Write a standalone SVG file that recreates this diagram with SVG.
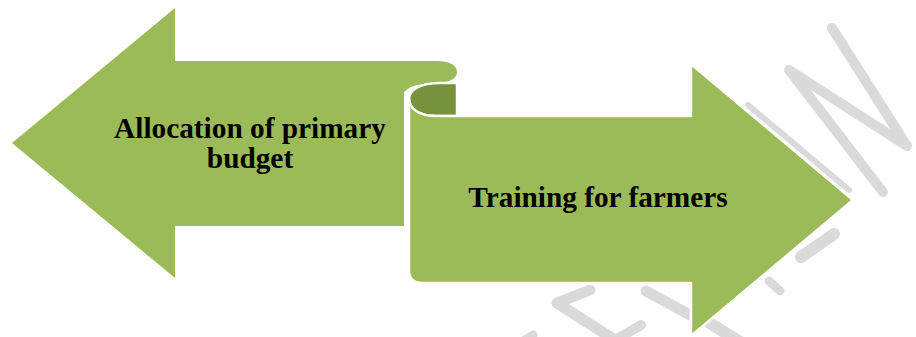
<svg xmlns="http://www.w3.org/2000/svg" width="916" height="337" viewBox="0 0 916 337">
  <style>
    .shape { fill: #9bbb59; }
    .edge { stroke: #ffffff; stroke-width: 2.5; stroke-linejoin: round; }
    .inner { fill: #76923c; }
    .label { font-family: "Liberation Serif", "Times New Roman", serif; font-weight: bold; font-size: 29.3px; fill: #000000; text-anchor: middle; }
    .wm { fill: none; stroke: #dadada; stroke-linecap: round; stroke-linejoin: round; }
  </style>
  <rect width="916" height="337" fill="#ffffff"/>
  <g id="watermark">
    <polyline class="wm" stroke-width="10" points="883,192 789,70 907,146 832,28"/>
    <line class="wm" stroke-width="6" x1="748" y1="105" x2="849" y2="190"/>
    <line class="wm" stroke-width="12" x1="801" y1="257" x2="834" y2="234"/>
    <line class="wm" stroke-width="9" x1="769" y1="281" x2="780" y2="291"/>
    <line class="wm" stroke-width="12" x1="708" y1="322" x2="745" y2="345"/>
    <line class="wm" stroke-width="11" x1="646" y1="291" x2="690" y2="315"/>
    <polyline class="wm" stroke-width="11" points="590,290 557,303 618,342"/>
    <line class="wm" stroke-width="10" x1="612" y1="342" x2="641" y2="325"/>
    <line class="wm" stroke-width="9" x1="520" y1="343" x2="533" y2="335"/>
  </g>
  <g id="left-arrow">
    <path class="shape" d="M12,143 L175,8 L175,61 L437,61 C451,61 457,66 457,72 C457,79 448,83 437,83 C425,83 414,85 409,88 L404,92 L404,226 L175,226 L175,278 Z"/>
    <text class="label" x="250" y="138">Allocation of primary</text>
    <text class="label" x="250" y="168">budget</text>
  </g>
  <g id="right-arrow">
    <path class="inner edge" d="M457,83 L440,83 C420,83 409,90 409,99 C409,109 420,116 436,116 L457,116 Z"/>
    <path class="shape edge" d="M409,99 C409,109 420,116 436,116 L691,116 L691,64 L853,200 L691,336 L691,283 L422,283 Q409,283 409,270 Z"/>
    <text class="label" x="598" y="207">Training for farmers</text>
  </g>
  <g id="connectors"/>
</svg>
